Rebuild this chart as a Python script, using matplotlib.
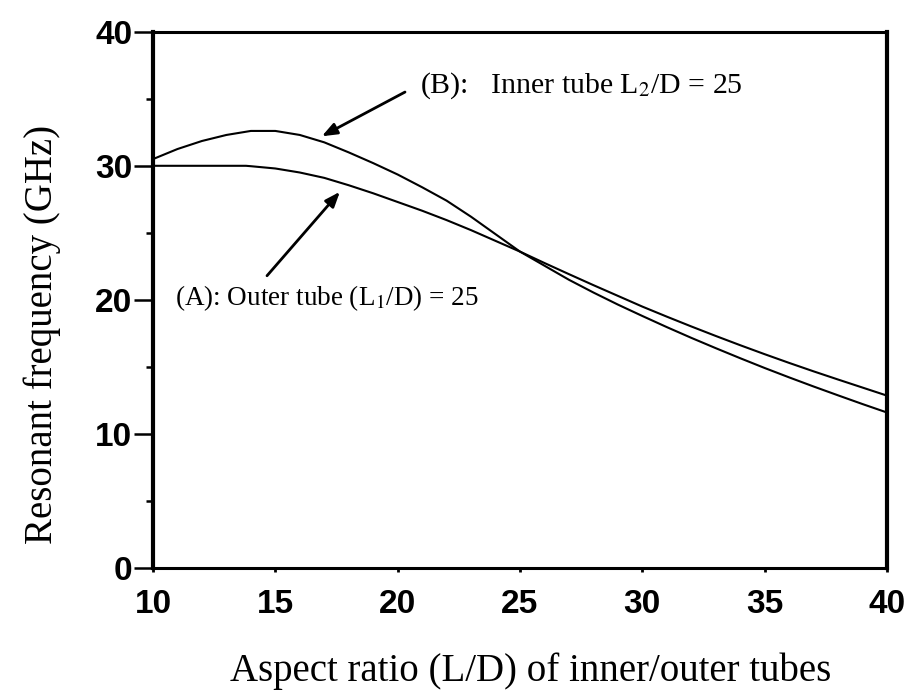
import matplotlib
matplotlib.use('Agg')
import matplotlib.pyplot as plt

# aspect ratio L/D
x_outer = [10, 11, 12, 13, 13.8, 14, 15, 16, 17, 18, 19, 20, 21, 22, 23, 24, 25,
           26, 27, 28, 29, 30, 31, 32, 33, 34, 35, 36, 37, 38, 39, 40]
# (A) outer tube, L1/D = 25
f_outer = [30.0, 30.0, 30.0, 30.0, 30.0, 29.97, 29.8, 29.5, 29.1, 28.55, 27.95, 27.3,
           26.65, 25.95, 25.2, 24.4, 23.6, 22.75, 21.92, 21.1, 20.3, 19.5, 18.75,
           18.02, 17.31, 16.62, 15.95, 15.3, 14.67, 14.06, 13.46, 12.86]

x_inner = [10, 11, 12, 13, 14, 15, 16, 17, 18, 19, 20, 21, 22, 23, 24, 25,
           26, 27, 28, 29, 30, 31, 32, 33, 34, 35, 36, 37, 38, 39, 40]
# (B) inner tube, L2/D = 25
f_inner = [30.5, 31.25, 31.85, 32.3, 32.6, 32.6, 32.3, 31.75, 31.0, 30.2, 29.35,
           28.4, 27.4, 26.2, 24.9, 23.6, 22.55, 21.5, 20.55, 19.65, 18.8, 17.97,
           17.17, 16.4, 15.65, 14.92, 14.22, 13.54, 12.88, 12.23, 11.6]

plt.rcParams['mathtext.fontset'] = 'stix'

fig = plt.figure(figsize=(9.09, 6.97), dpi=100)
ax = fig.add_axes([0.1683, 0.185, 0.8075, 0.7695])

ax.plot(x_outer, f_outer, color='black', lw=1.5)
ax.plot(x_inner, f_inner, color='black', lw=1.5)

ax.set_xlim(10, 40)
ax.set_ylim(0, 40)
ax.set_xticks([10, 15, 20, 25, 30, 35, 40])
ax.set_yticks([0, 10, 20, 30, 40])
ax.set_yticks([5, 15, 25, 35], minor=True)

for s in ['left', 'right']:
    ax.spines[s].set_linewidth(3)
for s in ['top', 'bottom']:
    ax.spines[s].set_linewidth(2.2)

ax.tick_params(axis='y', which='major', direction='out', length=14, width=1.8, pad=1)
ax.tick_params(axis='y', which='minor', direction='out', length=5, width=1.8)
ax.tick_params(axis='x', which='major', direction='out', length=3, width=2, pad=12)
for lab in ax.get_xticklabels() + ax.get_yticklabels():
    lab.set_fontfamily('Liberation Sans')
    lab.set_fontweight('bold')
    lab.set_fontsize(24)

ax.set_xlabel('Aspect ratio (L/D) of inner/outer tubes', family='Liberation Serif',
              fontsize=28)
ax.xaxis.set_label_coords(0.514, -0.158)
ax.set_ylabel('Resonant frequency (GHz)', family='Liberation Serif', fontsize=28)
ax.yaxis.set_label_coords(-0.125, 0.435)

ax.text(20.9, 35.45, r'(B):   Inner tube L$_2$/D = 25', family='Liberation Serif',
        fontsize=21.5, va='baseline')
ax.text(10.9, 19.6, r'(A): Outer tube (L$_1$/D) = 25', family='Liberation Serif',
        fontsize=19.5, va='baseline')

arrow = dict(arrowstyle='-|>,head_length=0.9,head_width=0.35', color='black', lw=2,
             shrinkA=0, shrinkB=0)
ax.annotate('', xy=(16.9, 32.2), xytext=(20.3, 35.5), arrowprops=arrow)
ax.annotate('', xy=(17.64, 28.06), xytext=(14.66, 21.8), arrowprops=arrow)

fig.savefig('out.png', dpi=100)
